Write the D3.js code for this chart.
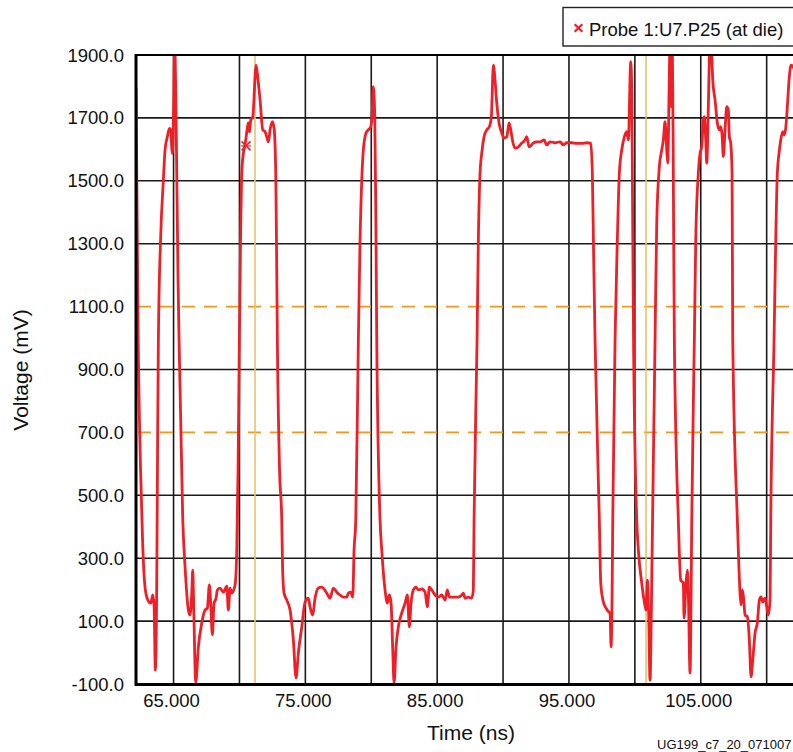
<!DOCTYPE html>
<html>
<head>
<meta charset="utf-8">
<script src="https://cdn.jsdelivr.net/npm/d3@7"></script>
<style>
html,body{margin:0;padding:0;background:#fff;}
svg{display:block;font-family:"Liberation Sans",Arial,Helvetica,sans-serif;}
</style>
</head>
<body>
<svg id="chart" width="793" height="752"></svg>
<script>
// ---- data ----
const timeNs = [
62.155,62.307,62.496,62.648,62.762,62.967,63.270,63.422,63.521,63.619,63.725,63.786,63.847,64.014,64.226,64.355,64.530,64.681,64.772,64.909,65.000,65.076,65.152,65.243,65.341,65.417,
65.698,65.873,66.123,66.252,66.381,66.457,66.517,66.684,66.882,67.140,67.390,67.564,67.716,67.807,67.944,68.073,68.224,68.323,68.528,68.778,69.036,69.158,69.287,69.416,69.666,69.795,69.894,
69.992,70.083,70.174,70.296,70.425,70.599,70.675,70.766,70.857,71.009,71.259,71.411,71.563,71.768,71.942,72.071,72.193,72.322,72.496,72.625,72.754,72.815,72.875,
73.042,73.209,73.270,73.384,73.588,73.839,74.089,74.294,74.469,74.727,74.977,75.227,75.356,75.561,75.736,75.986,76.244,76.623,76.874,77.124,77.382,77.632,77.883,78.141,78.262,78.444,78.596,78.695,78.824,
79.021,79.150,79.279,79.400,79.605,79.780,79.962,80.060,80.159,80.265,80.341,80.417,
80.667,80.796,81.046,81.221,81.373,81.502,81.631,81.729,81.881,82.056,82.313,82.564,82.738,82.890,83.019,83.194,83.398,83.573,83.831,84.081,84.256,84.407,84.590,84.840,85.090,85.348,85.599,85.773,85.925,86.229,86.608,86.866,86.987,87.116,87.367,87.624,87.746,87.799,
88.027,88.125,88.254,88.383,88.558,88.763,88.960,89.112,89.263,89.392,89.521,89.696,89.901,90.075,90.280,90.455,90.583,90.735,90.910,91.160,91.418,91.668,91.797,91.972,92.298,92.556,92.807,93.110,93.315,93.565,93.944,94.324,94.574,94.832,95.211,95.591,95.970,96.350,96.653,96.774,96.865,
96.979,97.305,97.412,97.609,97.814,97.989,98.118,98.193,98.269,98.322,
98.497,98.671,98.823,99.005,99.202,99.384,99.506,99.688,99.764,99.824,99.900,
100.143,100.265,100.522,100.697,100.849,100.947,101.053,101.152,101.228,101.281,101.342,
101.531,101.660,101.858,102.040,102.161,102.290,102.419,102.495,102.617,102.670,102.768,102.844,102.920,102.996,
103.299,103.481,103.679,103.732,103.884,103.982,104.058,104.187,104.263,104.316,
104.513,104.619,104.817,104.946,105.074,105.196,105.272,105.378,105.454,105.575,105.704,105.833,105.909,106.084,106.258,106.410,106.516,106.615,106.713,106.842,106.971,107.093,107.169,107.275,107.374,107.427,
107.776,107.981,108.057,108.155,108.262,108.360,108.534,108.686,108.815,108.944,109.119,109.293,109.445,109.574,109.703,109.877,110.006,110.127,110.257,110.310,
110.560,110.689,110.810,110.939,111.068,111.220,111.342,111.448,111.569,111.721,111.850,112.000,112.230
];
const voltageMv = [
1795,1025,580,358,246,176,157,183,151,-56,230,644,994,1312,1502,1598,1640,1667,1662,1587,1725,1950,1820,1525,1184,994,
421,272,135,119,189,262,167,-94,18,94,135,141,215,167,56,157,173,199,205,192,211,135,205,189,215,326,580,
994,1312,1525,1587,1614,1668,1684,1655,1693,1704,1868,1820,1757,1662,1656,1640,1624,1662,1688,1668,1525,1280,994,
580,421,272,189,167,135,40,-81,-1,81,160,173,145,119,173,205,208,189,173,205,192,183,176,176,189,192,176,326,421,
994,1312,1502,1598,1652,1662,1672,1704,1799,1704,1418,994,
421,326,199,157,183,157,8,-96,18,82,126,157,183,82,157,199,208,199,202,192,145,208,199,183,176,183,167,199,176,176,176,183,189,173,176,173,199,421,
994,1312,1525,1588,1640,1662,1672,1704,1868,1820,1747,1684,1652,1636,1640,1684,1662,1624,1604,1608,1620,1630,1640,1608,1620,1624,1624,1630,1614,1624,1621,1624,1614,1621,1621,1619,1619,1621,1619,1525,1280,
994,421,221,161,141,130,126,18,167,421,
994,1312,1525,1598,1640,1656,1630,1879,1789,1439,994,
421,326,221,167,135,230,114,-88,62,230,421,
994,1366,1545,1598,1630,1688,1598,1556,1842,1950,1736,1932,1503,994,
421,230,221,110,221,262,189,-65,167,421,
994,1312,1525,1588,1608,1693,1704,1630,1556,1736,1950,1895,1821,1757,1684,1662,1672,1646,1577,1662,1736,1725,1640,1620,1525,994,
421,189,151,199,167,119,114,40,-77,-24,62,94,167,177,161,173,146,119,167,421,
994,1312,1525,1588,1630,1656,1646,1668,1736,1831,1868,1863,1836
];
const xTickValues = [65, 75, 85, 95, 105];
const xGridValues = [65, 70, 75, 80, 85, 90, 95, 100, 105, 110];
const yTickValues = [-100, 100, 300, 500, 700, 900, 1100, 1300, 1500, 1700, 1900];
const thresholdMv = [1100, 700];
const cursorNs = [71.18, 100.85];
const markerPoint = [70.50, 1611];
const legendLabel = "Probe 1:U7.P25 (at die)";
const xTitle = "Time (ns)";
const yTitle = "Voltage (mV)";
const figId = "UG199_c7_20_071007";

// ---- layout ----
const L = 136, T = 55, B = 684;
const svg = d3.select("#chart");
const x = d3.scaleLinear().domain([62.15, 112.5]).range([L, L + 50.35 * 13.18]);
const y = d3.scaleLinear().domain([-100, 1900]).range([B, T]);
const R = x.range()[1];

svg.append("defs").append("clipPath").attr("id", "plotclip")
  .append("rect").attr("x", L).attr("y", T).attr("width", R - L).attr("height", B - T);

// horizontal gridlines
svg.append("g").selectAll("line")
  .data(yTickValues.filter(v => !thresholdMv.includes(v) && v !== 1900 && v !== -100))
  .join("line")
  .attr("x1", L).attr("x2", R)
  .attr("y1", d => y(d)).attr("y2", d => y(d))
  .attr("stroke", "#1a1a1a").attr("stroke-width", 1.6);

// vertical gridlines
svg.append("g").selectAll("line").data(xGridValues).join("line")
  .attr("x1", d => x(d)).attr("x2", d => x(d))
  .attr("y1", T).attr("y2", B)
  .attr("stroke", "#1a1a1a").attr("stroke-width", 1.6);

// threshold dashed lines
svg.append("g").selectAll("line").data(thresholdMv).join("line")
  .attr("x1", L + 2).attr("x2", R)
  .attr("y1", d => y(d)).attr("y2", d => y(d))
  .attr("stroke", "#f7941d").attr("stroke-width", 1.6)
  .attr("stroke-dasharray", "13,9");

// cursors
svg.append("g").selectAll("line").data(cursorNs).join("line")
  .attr("x1", d => x(d)).attr("x2", d => x(d))
  .attr("y1", T).attr("y2", B)
  .attr("stroke", "#e6c46e").attr("stroke-width", 1.6);

// waveform
const pts = timeNs.map((t, i) => [t, voltageMv[i]]);
const line = d3.line().x(d => x(d[0])).y(d => y(d[1])).curve(d3.curveMonotoneX);
svg.append("path").datum(pts)
  .attr("clip-path", "url(#plotclip)")
  .attr("d", line)
  .attr("fill", "none").attr("stroke", "#ee1f26")
  .attr("stroke-width", 2.8).attr("stroke-linejoin", "round").attr("stroke-linecap", "round");

// marker on curve
function drawX(g, cx, cy, s, w) {
  g.append("path")
    .attr("d", `M${cx - s},${cy - s}L${cx + s},${cy + s}M${cx - s},${cy + s}L${cx + s},${cy - s}`)
    .attr("stroke", "#ee1f26").attr("stroke-width", w).attr("fill", "none");
}
const mg = svg.append("g");
drawX(mg, x(markerPoint[0]), y(markerPoint[1]), 4.5, 1.6);
mg.append("line").attr("x1", x(markerPoint[0]) - 5).attr("x2", x(markerPoint[0]) + 5)
  .attr("y1", y(markerPoint[1])).attr("y2", y(markerPoint[1]))
  .attr("stroke", "#ee1f26").attr("stroke-width", 1.2);

// borders
svg.append("line").attr("x1", L).attr("x2", R).attr("y1", T).attr("y2", T)
  .attr("stroke", "#000").attr("stroke-width", 2.2);
svg.append("line").attr("x1", L).attr("x2", R).attr("y1", B + 0.5).attr("y2", B + 0.5)
  .attr("stroke", "#000").attr("stroke-width", 3);
svg.append("line").attr("x1", L).attr("x2", L).attr("y1", T - 1).attr("y2", B + 2)
  .attr("stroke", "#000").attr("stroke-width", 3);

// y tick labels
svg.append("g").selectAll("text").data(yTickValues).join("text")
  .attr("x", 124).attr("y", d => y(d) + 6.5)
  .attr("text-anchor", "end").attr("font-size", 18.5).attr("fill", "#111")
  .text(d => d3.format(".1f")(d).replace("\u2212", "-"));

// x tick labels
svg.append("g").selectAll("text").data(xTickValues).join("text")
  .attr("x", d => x(d) - 2).attr("y", 707)
  .attr("text-anchor", "middle").attr("font-size", 18.5).attr("fill", "#111")
  .text(d => d3.format(".3f")(d));

// axis titles
svg.append("text").attr("x", 471).attr("y", 740).attr("text-anchor", "middle")
  .attr("font-size", 21).attr("fill", "#111").text(xTitle);
svg.append("text").attr("transform", "translate(28,370) rotate(-90)")
  .attr("text-anchor", "middle").attr("font-size", 21).attr("fill", "#111").text(yTitle);

// figure id
svg.append("text").attr("x", 657).attr("y", 749).attr("font-size", 13).attr("fill", "#111").text(figId);

// legend
svg.append("rect").attr("x", 563).attr("y", 7.5).attr("width", 231).attr("height", 38.5)
  .attr("fill", "#fff").attr("stroke", "#222").attr("stroke-width", 1.4);
drawX(svg.append("g"), 578.5, 28, 3.8, 2.2);
svg.append("text").attr("x", 589).attr("y", 35.5).attr("font-size", 18.5).attr("fill", "#111").text(legendLabel);
</script>
</body>
</html>
